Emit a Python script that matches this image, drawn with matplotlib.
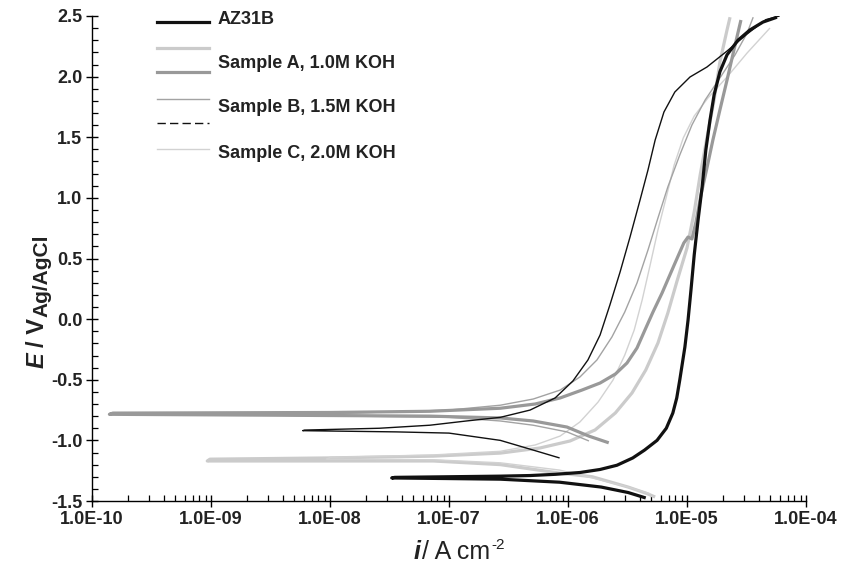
import matplotlib
matplotlib.use("Agg")
import matplotlib.pyplot as plt
from matplotlib.ticker import MultipleLocator, FuncFormatter, LogLocator, NullFormatter
from matplotlib.lines import Line2D
from matplotlib import font_manager as fm

plt.rcParams['font.family'] = ['Liberation Sans', 'DejaVu Sans']

# ---------------- data (current density A/cm2, potential V vs Ag/AgCl) ----------------
az31b_i = [4.5e-6, 3.2e-6, 1.9e-6, 8.5e-7, 2.7e-7, 1.0e-7, 3.3e-8,
           3.5e-8, 1.0e-7, 2.7e-7, 4.8e-7, 7.8e-7, 1.26e-6, 1.86e-6, 2.58e-6, 3.5e-6, 4.4e-6,
           5.6e-6, 6.7e-6, 7.6e-6, 8.2e-6, 8.7e-6, 9.6e-6, 1.02e-5, 1.08e-5, 1.15e-5, 1.24e-5,
           1.34e-5, 1.44e-5, 1.56e-5, 1.69e-5, 1.89e-5, 2.17e-5, 2.68e-5, 3.38e-5, 4.35e-5, 5.7e-5]
az31b_E = [-1.475, -1.43, -1.385, -1.345, -1.32, -1.315, -1.31,
           -1.305, -1.30, -1.295, -1.29, -1.28, -1.265, -1.24, -1.205, -1.145, -1.08,
           -1.0, -0.90, -0.775, -0.65, -0.50, -0.23, -0.01, 0.24, 0.53, 0.82,
           1.09, 1.395, 1.64, 1.85, 2.04, 2.18, 2.30, 2.385, 2.45, 2.49]

lgthick_i = [5.4e-6, 4.5e-6, 3.2e-6, 1.6e-6, 8.5e-7, 2.7e-7, 7.4e-8, 9.3e-9, 9.3e-10,
             9.8e-10, 9.3e-9, 7.4e-8, 2.7e-7, 5.8e-7, 1.04e-6, 1.69e-6, 2.5e-6, 3.45e-6, 4.5e-6,
             5.7e-6, 6.9e-6, 8.2e-6, 1.0e-5, 1.15e-5, 1.29e-5, 1.47e-5, 1.69e-5, 1.89e-5,
             2.17e-5, 2.3e-5]
lgthick_E = [-1.467, -1.435, -1.385, -1.30, -1.27, -1.20, -1.17, -1.17, -1.17,
             -1.155, -1.145, -1.13, -1.105, -1.063, -1.005, -0.914, -0.774, -0.609, -0.42,
             -0.197, 0.05, 0.306, 0.587, 0.884, 1.189, 1.494, 1.807, 2.121,
             2.385, 2.49]

sampleA_i = [2.2e-6, 1.5e-6, 9.8e-7, 5.1e-7, 2.7e-7, 6.9e-8, 1.0e-8, 1.2e-9, 1.4e-10,
             1.5e-10, 1.0e-8, 6.9e-8, 2.7e-7, 5.3e-7, 8.6e-7, 1.31e-6, 1.86e-6, 2.5e-6,
             3.13e-6, 3.8e-6, 4.43e-6, 5.18e-6, 6.17e-6, 7.8e-6, 9.4e-6, 1.02e-5, 1.1e-5,
             1.19e-5, 1.31e-5, 1.47e-5, 1.65e-5, 1.89e-5, 2.17e-5, 2.48e-5, 2.84e-5]
sampleA_E = [-1.02, -0.965, -0.89, -0.84, -0.815, -0.80, -0.795, -0.79, -0.785,
             -0.775, -0.77, -0.76, -0.735, -0.70, -0.65, -0.585, -0.527, -0.453,
             -0.362, -0.238, -0.09, 0.059, 0.215, 0.446, 0.628, 0.677, 0.661,
             0.801, 1.024, 1.246, 1.477, 1.725, 1.972, 2.22, 2.467]

graythin_i = [1.5e-6, 9.8e-7, 5.1e-7, 2.7e-7, 1.0e-7, 1.5e-8, 1.9e-9,
              1.95e-9, 1.5e-8, 1.0e-7, 2.7e-7, 5.1e-7, 8.6e-7, 1.26e-6, 1.75e-6, 2.34e-6,
              3.0e-6, 3.8e-6, 4.7e-6, 5.7e-6, 6.9e-6, 8.7e-6, 1.1e-5, 1.42e-5, 1.89e-5,
              2.53e-5, 3.2e-5, 3.6e-5]
graythin_E = [-1.005, -0.93, -0.875, -0.84, -0.81, -0.80, -0.79,
              -0.78, -0.775, -0.75, -0.71, -0.659, -0.585, -0.477, -0.337, -0.147,
              0.059, 0.298, 0.57, 0.834, 1.09, 1.354, 1.601, 1.807, 1.989,
              2.178, 2.36, 2.49]

sampleB_i = [8.5e-7, 5.1e-7, 2.7e-7, 1.0e-7, 3.6e-8, 5.9e-9,
             6.1e-9, 2.6e-8, 6.9e-8, 1.4e-7, 2.7e-7, 4.8e-7, 7.8e-7, 1.1e-6, 1.47e-6, 1.86e-6,
             2.25e-6, 2.74e-6, 3.32e-6, 4.03e-6, 4.7e-6, 5.4e-6, 6.4e-6, 7.9e-6, 1.06e-5,
             1.47e-5, 2.17e-5, 3.2e-5, 4.6e-5, 6.0e-5]
sampleB_E = [-1.145, -1.08, -1.0, -0.94, -0.93, -0.92,
             -0.915, -0.90, -0.875, -0.84, -0.81, -0.75, -0.65, -0.51, -0.337, -0.131,
             0.117, 0.389, 0.677, 0.982, 1.23, 1.477, 1.708, 1.873, 1.997,
             2.079, 2.211, 2.352, 2.47, 2.5]

sampleC_i = [4.9e-6, 3.2e-6, 1.6e-6, 8.5e-7, 2.7e-7, 7.4e-8, 9.3e-9,
             1.0e-8, 7.4e-8, 2.7e-7, 5.3e-7, 8.6e-7, 1.26e-6, 1.79e-6, 2.39e-6, 3.0e-6,
             3.6e-6, 4.2e-6, 4.9e-6, 5.7e-6, 6.7e-6, 7.8e-6, 9.3e-6, 1.15e-5, 1.5e-5,
             2.17e-5, 3.2e-5, 4.98e-5]
sampleC_E = [-1.44, -1.385, -1.31, -1.245, -1.185, -1.16, -1.155,
             -1.14, -1.12, -1.09, -1.038, -0.964, -0.848, -0.684, -0.502, -0.296,
             -0.09, 0.158, 0.446, 0.735, 1.007, 1.271, 1.494, 1.675, 1.824,
             1.997, 2.195, 2.401]

legend_labels = ['AZ31B', 'Sample A, 1.0M KOH', 'Sample B, 1.5M KOH', 'Sample C, 2.0M KOH']
x_ticks = [1e-10, 1e-9, 1e-8, 1e-7, 1e-6, 1e-5, 1e-4]

# ---------------- styles ----------------
BLACK = '#111111'
LIGHT = '#cbcbcb'
MID = '#999999'
GRAYTHIN = '#a3a3a3'
LIGHTTHIN = '#d2d2d2'
TXT = '#222222'

series = [
    (lgthick_i, lgthick_E, dict(color=LIGHT, lw=2.3, ls='-')),
    (sampleC_i, sampleC_E, dict(color=LIGHTTHIN, lw=1.0, ls='-')),
    (graythin_i, graythin_E, dict(color=GRAYTHIN, lw=1.0, ls='-')),
    (sampleA_i, sampleA_E, dict(color=MID, lw=2.3, ls='-')),
    (sampleB_i, sampleB_E, dict(color=BLACK, lw=1.0, ls='-')),
    (az31b_i, az31b_E, dict(color=BLACK, lw=2.3, ls='-')),
]

W, H = 843, 571
fig = plt.figure(figsize=(W / 100, H / 100), dpi=100)
x0, x1, ytop, ybot = 92, 806, 16, 501
ax = fig.add_axes([x0 / W, 1 - ybot / H, (x1 - x0) / W, (ybot - ytop) / H])

for xi, ye, st in series:
    ax.plot(xi, ye, solid_joinstyle='round', solid_capstyle='butt', **st)

ax.set_xscale('log')
ax.set_xlim(1e-10, 1e-4)
ax.set_ylim(-1.5, 2.5)

ax.set_xticks(x_ticks)
ax.xaxis.set_major_formatter(FuncFormatter(lambda v, p: f"{v:.1E}"))
ax.xaxis.set_minor_locator(LogLocator(base=10, subs=range(2, 10), numticks=100))
ax.xaxis.set_minor_formatter(NullFormatter())
ax.yaxis.set_major_locator(MultipleLocator(0.5))
ax.yaxis.set_minor_locator(MultipleLocator(0.1))
ax.yaxis.set_major_formatter(FuncFormatter(lambda v, p: f"{v:.1f}"))

for s in ['top', 'right']:
    ax.spines[s].set_visible(False)
for s in ['left', 'bottom']:
    ax.spines[s].set_linewidth(1.0)
    ax.spines[s].set_color('black')

ax.tick_params(which='major', direction='inout', length=8, width=1.0, labelsize=13, pad=3)
ax.tick_params(which='minor', direction='in', length=4, width=0.9)
for lab in ax.get_xticklabels() + ax.get_yticklabels():
    lab.set_fontweight('bold')
    lab.set_color(TXT)

fig.canvas.draw()
renderer = fig.canvas.get_renderer()

# ---- y axis title: E / V(Ag/AgCl), built from pieces going upward ----
yl_x = 37
y_start = H - 368  # display coords (origin bottom)
t_e = fig.text(yl_x / W, y_start / H, 'E', rotation=90, ha='center', va='bottom',
               fontsize=17, fontweight='bold', fontstyle='italic', color=TXT)
bb = t_e.get_window_extent(renderer)
t_v = fig.text(yl_x / W, (bb.y1 + 5) / H, '/ V', rotation=90, ha='center', va='bottom',
               fontsize=17, fontweight='bold', color=TXT)
bb = t_v.get_window_extent(renderer)
fig.text((yl_x + 5) / W, (bb.y1 + 1) / H, 'Ag/AgCl', rotation=90, ha='center', va='bottom',
         fontsize=15, fontweight='bold', color=TXT)

# ---- x axis title: i/ A cm-2 ----
names = {f.name for f in fm.fontManager.ttflist}
xfam = ['Liberation Sans Narrow', 'Liberation Sans'] if 'Liberation Sans Narrow' in names else ['Liberation Sans']
base_y = H - 559
t_i = fig.text(414 / W, base_y / H, 'i', ha='left', va='baseline', fontsize=18,
               fontstyle='italic', fontweight='bold', color=TXT, family=xfam)
bb = t_i.get_window_extent(renderer)
t_a = fig.text((bb.x1 + 1) / W, base_y / H, '/ A cm', ha='left', va='baseline', fontsize=18,
               color=TXT, family=xfam)
bb = t_a.get_window_extent(renderer)
fig.text((bb.x1 + 1) / W, (base_y + 10) / H, '-2', ha='left', va='baseline', fontsize=11,
         color=TXT, family=xfam)

# ---- legend (drawn manually, as in the original layout) ----
handle_styles = [
    (22, dict(color=BLACK, lw=2.3, ls='-')),
    (48, dict(color=LIGHT, lw=2.3, ls='-')),
    (72, dict(color=MID, lw=2.3, ls='-')),
    (99, dict(color=GRAYTHIN, lw=1.0, ls='-')),
    (123, dict(color=BLACK, lw=1.0, ls=(0, (6, 3)))),
    (149, dict(color=LIGHTTHIN, lw=1.0, ls='-')),
]
for yy, st in handle_styles:
    fig.add_artist(Line2D([157 / W, 209 / W], [1 - yy / H, 1 - yy / H],
                          transform=fig.transFigure, **st))
for lab, yy in zip(legend_labels, [20, 64, 108, 153]):
    fig.text(218 / W, 1 - yy / H, lab, ha='left', va='center', fontsize=13,
             fontweight='bold', color=TXT)

fig.savefig('out.png', dpi=100)
